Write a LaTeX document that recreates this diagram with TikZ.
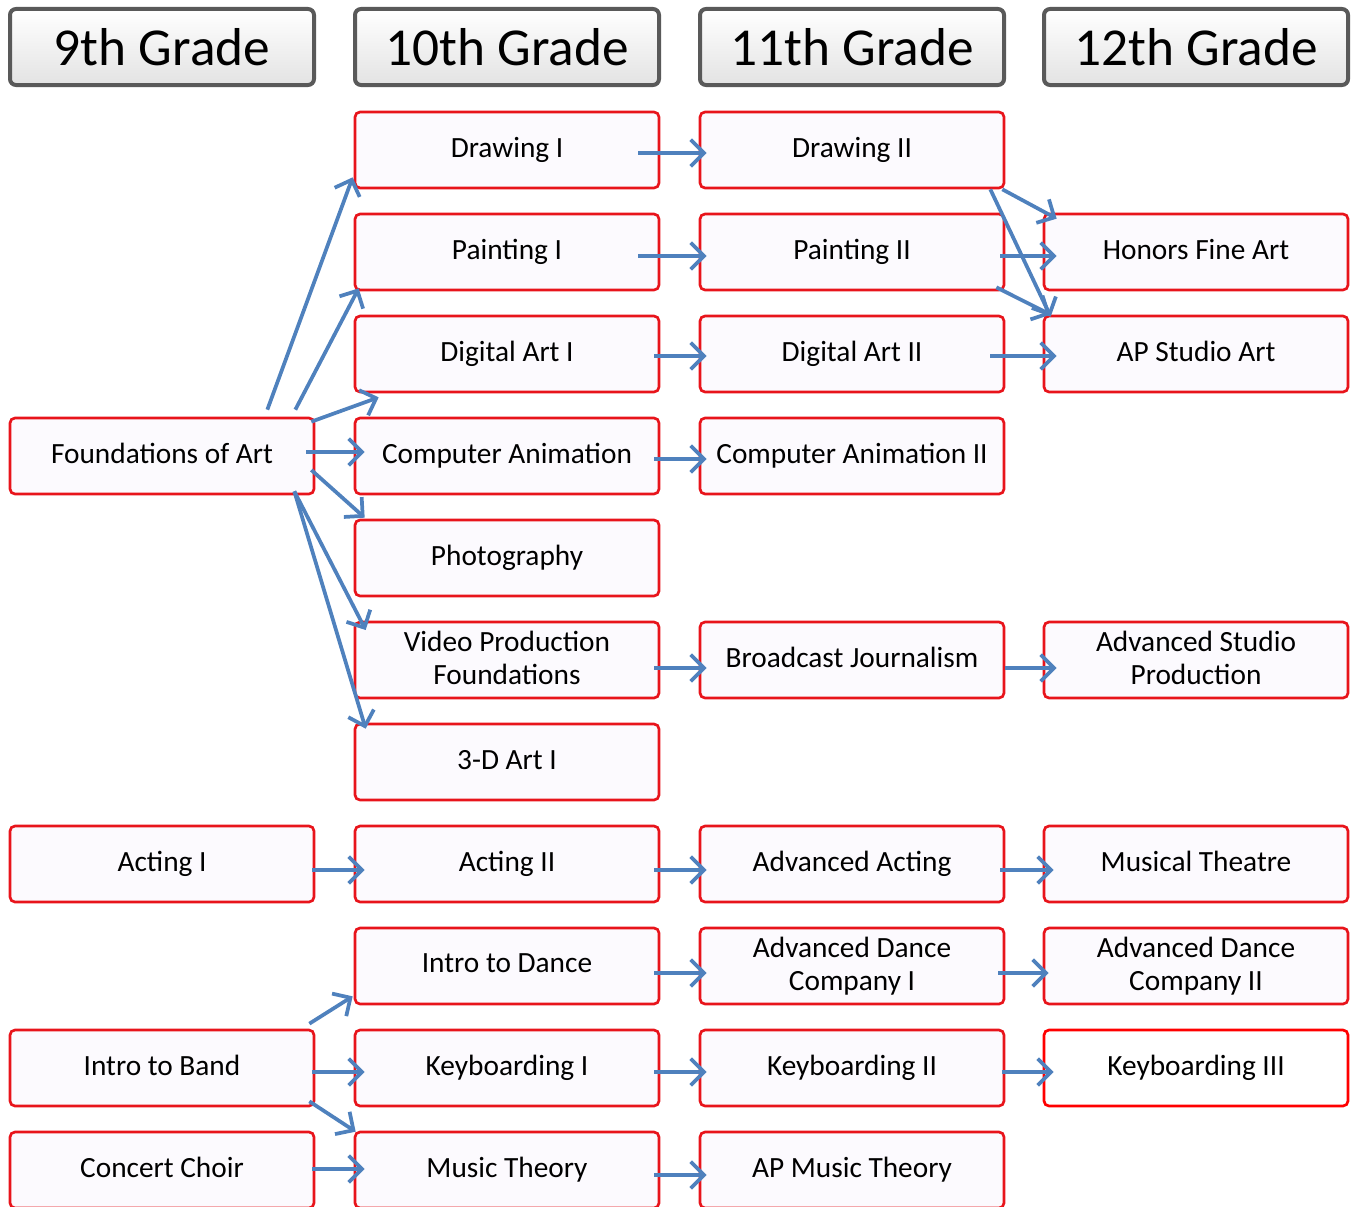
\documentclass[tikz,border=0pt]{standalone}
\usepackage{fontspec}
\setmainfont{Carlito}
\usetikzlibrary{arrows.meta}
\definecolor{boxred}{RGB}{232,20,27}
\definecolor{boxfill}{RGB}{252,250,254}
\definecolor{linkblue}{RGB}{79,129,189}
\definecolor{headgray}{RGB}{89,89,89}
\tikzset{
  course/.style={draw=boxred, line width=2pt, fill=boxfill, rounded corners=3.75pt,
    minimum width=228pt, minimum height=57pt, inner sep=0pt, align=center,
    execute at begin node=\vphantom{Dg}, font=\fontsize{22}{25}\selectfont},
  grade/.style={draw=headgray, line width=3pt, top color=white, bottom color=gray!22,
    rounded corners=4.5pt, minimum width=228pt, minimum height=57pt, inner sep=0pt,
    font=\fontsize{40}{44}\selectfont},
  link/.style={draw=linkblue, line width=2.8pt, -{Straight Barb[length=10pt,width=20pt]}}
}
\begin{document}
\begin{tikzpicture}[x=0.75pt,y=-0.75pt]
  \useasboundingbox (0,0) rectangle (1351,1206);

  \node[grade] (h9) at (162,47) {9th Grade};
  \node[grade] (h10) at (507,47) {10th Grade};
  \node[grade] (h11) at (852,47) {11th Grade};
  \node[grade] (h12) at (1196,47) {12th Grade};

  \node[course] (draw1) at (507,150) {Drawing I};
  \node[course] (draw2) at (852,150) {Drawing II};
  \node[course] (paint1) at (507,252) {Painting I};
  \node[course] (paint2) at (852,252) {Painting II};
  \node[course] (honors) at (1196,252) {Honors Fine Art};
  \node[course] (digital1) at (507,354) {Digital Art I};
  \node[course] (digital2) at (852,354) {Digital Art II};
  \node[course] (apstudio) at (1196,354) {AP Studio Art};
  \node[course] (found) at (162,456) {Foundations of Art};
  \node[course] (anim1) at (507,456) {Computer Animation};
  \node[course] (anim2) at (852,456) {Computer Animation II};
  \node[course] (photo) at (507,558) {Photography};
  \node[course] (video) at (507,660) {Video Production\\Foundations};
  \node[course] (broadcast) at (852,660) {Broadcast Journalism};
  \node[course] (studio) at (1196,660) {Advanced Studio\\Production};
  \node[course] (art3d) at (507,762) {3-D Art I};
  \node[course] (acting1) at (162,864) {Acting I};
  \node[course] (acting2) at (507,864) {Acting II};
  \node[course] (advacting) at (852,864) {Advanced Acting};
  \node[course] (musical) at (1196,864) {Musical Theatre};
  \node[course] (dance) at (507,966) {Intro to Dance};
  \node[course] (dance1) at (852,966) {Advanced Dance\\Company I};
  \node[course] (dance2) at (1196,966) {Advanced Dance\\Company II};
  \node[course] (band) at (162,1068) {Intro to Band};
  \node[course] (keys1) at (507,1068) {Keyboarding I};
  \node[course] (keys2) at (852,1068) {Keyboarding II};
  \node[course, draw=red, fill=white] (keys3) at (1196,1068) {Keyboarding III};
  \node[course] (choir) at (162,1170) {Concert Choir};
  \node[course] (theory) at (507,1170) {Music Theory};
  \node[course] (aptheory) at (852,1170) {AP Music Theory};

  \draw[link] ([shift={(-22,3)}]draw1.east) -- ([shift={(8,3)}]draw2.west);
  \draw[link] ([shift={(-22,4)}]paint1.east) -- ([shift={(8,4)}]paint2.west);
  \draw[link] ([shift={(-6,2)}]digital1.east) -- ([shift={(8,2)}]digital2.west);
  \draw[link] ([shift={(-15,2)}]digital2.east) -- ([shift={(14,2)}]apstudio.west);
  \draw[link] ([shift={(-5,4)}]paint2.east) -- ([shift={(14,4)}]honors.west);
  \draw[link] ([shift={(-3,0)}]draw2.south east) -- ([shift={(14,6)}]honors.north west);
  \draw[link] ([shift={(-15,0)}]draw2.south east) -- ([shift={(8,2)}]apstudio.north west);
  \draw[link] ([shift={(-9,-4)}]paint2.south east) -- ([shift={(8,0)}]apstudio.north west);
  \draw[link] ([shift={(-48,-7)}]found.north east) -- ([shift={(-1,-12)}]draw1.south west);
  \draw[link] ([shift={(-20,-7)}]found.north east) -- ([shift={(5,-3)}]paint1.south west);
  \draw[link] ([shift={(-4,5)}]found.north east) -- ([shift={(25,4)}]digital1.south west);
  \draw[link] ([shift={(-9,-4)}]found.east) -- ([shift={(11,-4)}]anim1.west);
  \draw[link] ([shift={(-4,14)}]found.east) -- ([shift={(11,-1)}]photo.north west);
  \draw[link] ([shift={(-21,-4)}]found.south east) -- ([shift={(12,-30)}]video.west);
  \draw[link] ([shift={(-21,-4)}]found.south east) -- ([shift={(12,6)}]art3d.north west);
  \draw[link] ([shift={(-6,3)}]anim1.east) -- ([shift={(8,3)}]anim2.west);
  \draw[link] ([shift={(-6,8)}]video.east) -- ([shift={(8,8)}]broadcast.west);
  \draw[link] ([shift={(0,8)}]broadcast.east) -- ([shift={(14,8)}]studio.west);
  \draw[link] ([shift={(-3,6)}]acting1.east) -- ([shift={(11,6)}]acting2.west);
  \draw[link] ([shift={(-6,6)}]acting2.east) -- ([shift={(8,6)}]advacting.west);
  \draw[link] ([shift={(-5,6)}]advacting.east) -- ([shift={(11,6)}]musical.west);
  \draw[link] ([shift={(-6,7)}]dance.east) -- ([shift={(8,7)}]dance1.west);
  \draw[link] ([shift={(-7,7)}]dance1.east) -- ([shift={(6,7)}]dance2.west);
  \draw[link] ([shift={(-6,-5)}]band.north east) -- ([shift={(-1,-9)}]dance.south west);
  \draw[link] ([shift={(-3,4)}]band.east) -- ([shift={(11,4)}]keys1.west);
  \draw[link] ([shift={(-6,-6)}]band.south east) -- ([shift={(2,1)}]theory.north west);
  \draw[link] ([shift={(-6,4)}]keys1.east) -- ([shift={(8,4)}]keys2.west);
  \draw[link] ([shift={(-3,4)}]keys2.east) -- ([shift={(11,4)}]keys3.west);
  \draw[link] ([shift={(-3,-1)}]choir.east) -- ([shift={(11,-1)}]theory.west);
  \draw[link] ([shift={(-6,5)}]theory.east) -- ([shift={(8,5)}]aptheory.west);
\end{tikzpicture}
\end{document}
